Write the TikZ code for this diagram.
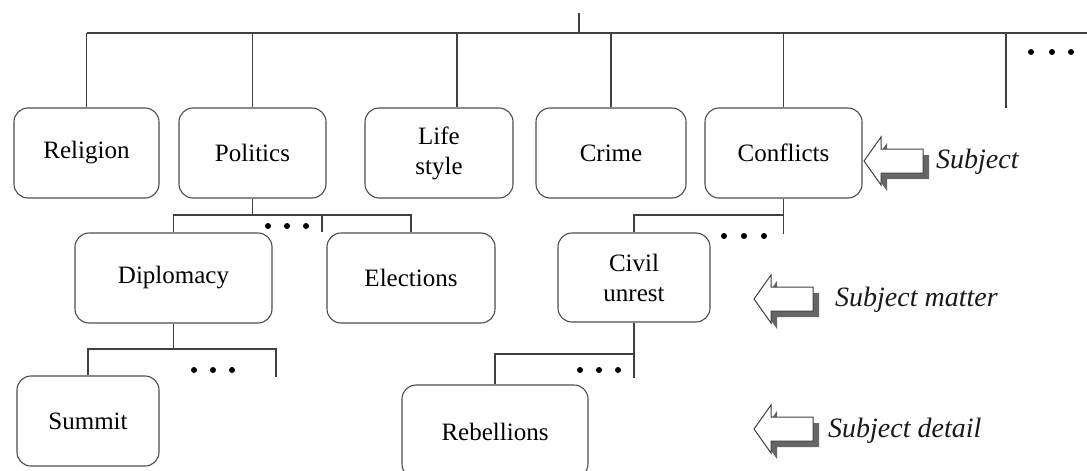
\documentclass[tikz,border=0pt]{standalone}
\usepackage{fontspec}
\setmainfont{Liberation Serif}
\begin{document}
\begin{tikzpicture}[x=1pt,y=-1pt,
  catbox/.style={draw=black!70, line width=1.1pt, rounded corners=14pt, align=center,
    inner sep=0pt, font=\fontsize{25}{30}\selectfont, text=black},
  link/.style={draw=black!75, line width=1.1pt},
  dotmark/.style={circle, fill=black, inner sep=0pt, minimum size=6pt},
  levellabel/.style={anchor=west, inner sep=0pt, font=\fontsize{28}{32}\selectfont\itshape, text=black!90},
  pics/levelarrow/.style={code={
    \fill[black!60] (6,6) -- (23,-18) -- (23,-6) -- (65,-6) -- (65,18) -- (23,18) -- (23,30) -- cycle;
    \draw[draw=black!75, line width=1pt, fill=white, line join=miter]
      (0,0) -- (17,-24) -- (17,-12) -- (59,-12) -- (59,12) -- (17,12) -- (17,24) -- cycle;
  }}]
\clip (0,0) rectangle (1087,471);

% categories
\node[catbox, minimum width=145pt, minimum height=90pt] (religion)  at (86.5,153)  {Religion};
\node[catbox, minimum width=147pt, minimum height=90pt] (politics)  at (252.5,153) {Politics};
\node[catbox, minimum width=148pt, minimum height=90pt] (lifestyle) at (439,153)   {Life\\style};
\node[catbox, minimum width=150pt, minimum height=90pt] (crime)     at (611,153)   {Crime};
\node[catbox, minimum width=157pt, minimum height=90pt] (conflicts) at (783.5,153) {Conflicts};

\node[catbox, minimum width=197pt, minimum height=90pt] (diplomacy) at (173.5,278) {Diplomacy};
\node[catbox, minimum width=168pt, minimum height=90pt] (elections) at (411,278)   {Elections};
\node[catbox, minimum width=152pt, minimum height=89pt] (civil)     at (634,277.5) {Civil\\unrest};

\node[catbox, minimum width=142pt, minimum height=90pt] (summit)     at (88,421)    {Summit};
\node[catbox, minimum width=186pt, minimum height=93pt] (rebellions) at (495,431.5) {Rebellions};

% top bus
\coordinate (root) at (579,13);
\coordinate (busR) at (1087,33);
\coordinate (lifetap) at (457,33);
\coordinate (moretap) at (1006,33);
\draw[link] (root) -- (root |- busR);
\draw[link] (religion.north |- busR) -- (busR);
\draw[link] (religion.north) -- (religion.north |- busR);
\draw[link] (politics.north) -- (politics.north |- busR);
\draw[link] (lifetap) -- (lifetap |- lifestyle.north);
\draw[link] (crime.north) -- (crime.north |- busR);
\draw[link] (conflicts.north) -- (conflicts.north |- busR);
\draw[link] (moretap) -- ++(0,75);

% politics branch
\coordinate (pbus) at (252.5,215);
\coordinate (pstub) at (322,215);
\draw[link] (politics.south) -- (pbus);
\draw[link] (diplomacy.north) -- (diplomacy.north |- pbus) -- (elections.north |- pbus) -- (elections.north);
\draw[link] (pstub) -- ++(0,17);

% conflicts branch
\coordinate (cbus) at (783.5,215);
\draw[link] (conflicts.south) -- ++(0,35);
\draw[link] (civil.north) -- (civil.north |- cbus) -- (cbus);

% diplomacy branch
\coordinate (dbus) at (173.5,349);
\coordinate (dstub) at (276,349);
\draw[link] (diplomacy.south) -- (dbus);
\draw[link] (summit.north) -- (summit.north |- dbus) -- (dstub) -- ++(0,28);

% civil unrest branch
\coordinate (ubus) at (634,354);
\draw[link] (civil.south) -- ++(0,55);
\draw[link] (rebellions.north) -- (rebellions.north |- ubus) -- (ubus);

% continuation dots
\foreach \x/\y [count=\i] in {1031/52,1052/52,1071/52, 268/226,287/226,306/226,
  724/236,744/236,764/236, 194/370,213/370,232/370, 580/370,599/370,618/370}
  \node[dotmark] (dot\i) at (\x,\y) {};

% level markers
\pic (arrowA) at (864,161) {levelarrow};
\pic (arrowB) at (754,299) {levelarrow};
\pic (arrowC) at (754,429) {levelarrow};
\node[levellabel] (labA) at (936,162) {Subject};
\node[levellabel] (labB) at (835,300) {Subject matter};
\node[levellabel] (labC) at (828,431) {Subject detail};
\end{tikzpicture}
\end{document}
